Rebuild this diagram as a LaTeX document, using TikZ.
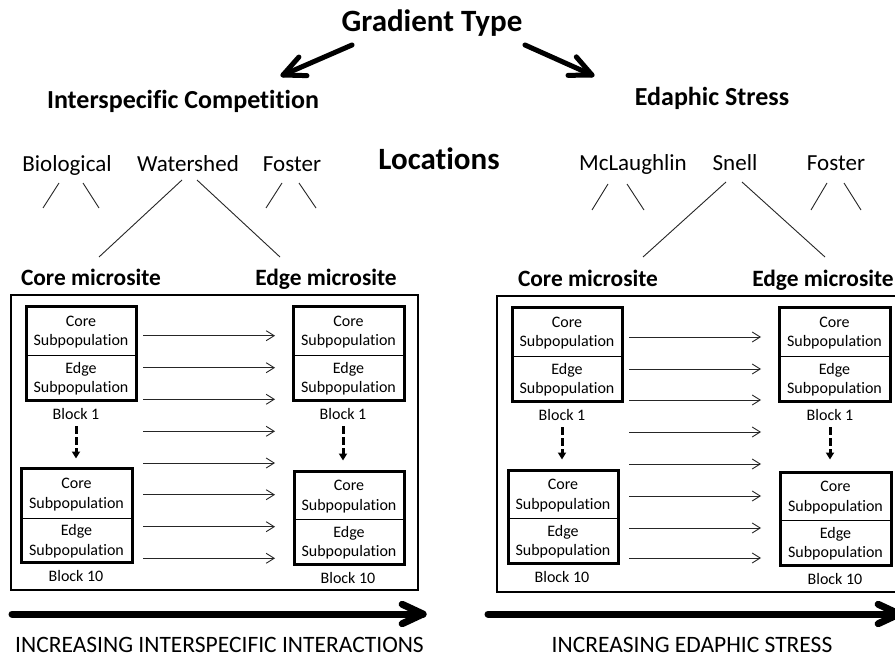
\documentclass[tikz,border=0pt]{standalone}
\usepackage{fontspec}
\setmainfont{Carlito}[Ligatures=NoCommon]
\usetikzlibrary{arrows.meta,calc}
\tikzset{
 hdr/.style={font=\bfseries\fontsize{31}{37}\selectfont, inner sep=0pt, anchor=base},
 subhdr/.style={font=\bfseries\fontsize{26}{31}\selectfont, inner sep=0pt, anchor=base},
 loc/.style={font=\fontsize{23}{28}\selectfont, inner sep=0pt, anchor=base},
 micro/.style={font=\bfseries\fontsize{23.4}{28}\selectfont, inner sep=0pt, anchor=base},
 inc/.style={font=\fontsize{23.5}{28}\selectfont, inner sep=0pt, anchor=base},
 blkbox/.style={draw, line width=3pt, inner sep=0pt},
 subtxt/.style={font=\fontsize{16}{19.5}\selectfont, align=center, inner sep=0pt},
 blklbl/.style={font=\fontsize{16}{19.5}\selectfont, inner sep=0pt, anchor=base},
 panel/.style={draw, line width=2.2pt, inner sep=0pt},
 branch/.style={line width=0.9pt, black!85},
 harr/.style={line width=0.9pt, black!85, -{Straight Barb[length=8pt,width=10pt]}},
 dasharr/.style={line width=3pt, dash pattern=on 7.5pt off 3.5pt, -{Triangle[length=7pt,width=8pt]}},
 garr/.style={line width=5pt, line cap=round, line join=round},
 barr/.style={line width=7pt, line cap=round, line join=round},
}
\newcommand\subblk[9]{%
 \node[blkbox, minimum width={(#4-#2)*1pt}, minimum height={(#5-#3)*1pt}] (#1) at ({(#2+#4)/2},{(#3+#5)/2}) {};
 \draw[line width=1pt] (#2,#6) -- (#4,#6);
 \node[subtxt] (#1c) at ({(#2+#4)/2},{(#3+#6)/2+1.5}) {Core\\Subpopulation};
 \node[subtxt] (#1e) at ({(#2+#4)/2},{(#6+#5)/2+1}) {Edge\\Subpopulation};
 \node[blklbl] (#1l) at (#7,#8) {#9};
}
\begin{document}
\begin{tikzpicture}[x=1pt,y=-1pt]
\useasboundingbox (0,0) rectangle (895,658);
\clip (0,0) rectangle (895,658);
\fill[white] (0,0) rectangle (895,658);

% headings
\node[hdr] (GT) at (432,32) {Gradient Type};
\node[subhdr] (IC) at (183,109) {Interspecific Competition};
\node[subhdr] (ES) at (712,106) {Edaphic Stress};
\node[hdr] (LOC) at (439,170) {Locations};

% gradient arrows
\coordinate (gls) at (352,45); \coordinate (glt) at (283,75);
\coordinate (grs) at (525,45); \coordinate (grt) at (592,75);
\draw[garr] (gls) -- (glt);
\draw[garr] ($(glt)!24pt!25:(gls)$) -- (glt) -- ($(glt)!24pt!-25:(gls)$);
\draw[garr] (grs) -- (grt);
\draw[garr] ($(grt)!24pt!25:(grs)$) -- (grt) -- ($(grt)!24pt!-25:(grs)$);

% locations
\node[loc] (bio) at (67,172) {Biological};
\node[loc] (ws) at (188,172) {Watershed};
\node[loc] (fo1) at (292,172) {Foster};
\node[loc] (mcl) at (633,171) {McLaughlin};
\node[loc] (sn) at (735,171) {Snell};
\node[loc] (fo2) at (836,171) {Foster};

% microsites
\node[micro] (cm1) at (91,285) {Core microsite};
\node[micro] (em1) at (326,285) {Edge microsite};
\node[micro] (cm2) at (588,286) {Core microsite};
\node[micro] (em2) at (823,286) {Edge microsite};

% branch lines
\draw[branch] (59,183) -- (43,208);
\draw[branch] (83,183) -- (99,208);
\draw[branch] (282,183) -- (266,208);
\draw[branch] (299,183) -- (316,208);
\draw[branch] (182,180) -- (99,257);
\draw[branch] (197,180) -- (280,257);
\draw[branch] (608,184) -- (592,210);
\draw[branch] (627,184) -- (644,210);
\draw[branch] (726,182) -- (643,257);
\draw[branch] (742,182) -- (825,257);
\draw[branch] (827,183) -- (811,210);
\draw[branch] (844,183) -- (861,210);

% panels
\node[panel, minimum width=407pt, minimum height=295pt] (PL) at (214.5,442.5) {};
\node[panel, minimum width=410pt, minimum height=296pt] (PR) at (702,444) {};

% blocks left panel
\subblk{LA}{26}{306}{136}{400}{355}{76}{419}{Block 1}
\subblk{LB}{21}{468}{132}{562}{518}{76}{581.5}{Block 10}
\subblk{RA}{293}{306}{404}{400}{355}{343}{419}{Block 1}
\subblk{RB}{294}{471}{404}{564}{519}{348}{583}{Block 10}
% blocks right panel
\subblk{LA2}{512}{307}{622}{401}{356}{562}{420}{Block 1}
\subblk{LB2}{508}{470}{618}{563}{518}{562}{582}{Block 10}
\subblk{RA2}{779}{307}{890}{401}{356}{830}{420}{Block 1}
\subblk{RB2}{780}{472}{891}{565}{520}{835}{584}{Block 10}

% dashed arrows
\draw[dasharr, shorten <=7pt, shorten >=8pt] (LAl.south) -- (LAl.south |- LB.north);
\draw[dasharr, shorten <=7pt, shorten >=9pt] (RAl.south) -- (RAl.south |- RB.north);
\draw[dasharr, shorten <=7pt, shorten >=9pt] (LA2l.south) -- (LA2l.south |- LB2.north);
\draw[dasharr, shorten <=7pt, shorten >=11pt] (RA2l.south) -- (RA2l.south |- RB2.north);

% horizontal arrows
\foreach \y [count=\i] in {335.7,367.7,399.3,431.3,463,494.7,526.7,558.3} {
  \coordinate (ha\i) at (143,\y); \coordinate (hb\i) at (275,\y);
  \draw[harr] (ha\i) -- (hb\i);
}
\foreach \y [count=\i] in {337,369,400,432,464,496,528,558} {
  \coordinate (hc\i) at (629,\y); \coordinate (hd\i) at (761,\y);
  \draw[harr] (hc\i) -- (hd\i);
}

% big arrows
\coordinate (bls) at (12,614); \coordinate (blt) at (423,614);
\coordinate (brs) at (488,614); \coordinate (brt) at (899,614);
\draw[barr] (bls) -- (blt);
\draw[barr] ($(blt)!23pt!25:(bls)$) -- (blt) -- ($(blt)!23pt!-25:(bls)$);
\draw[barr] (brs) -- (brt);
\draw[barr] ($(brt)!23pt!25:(brs)$) -- (brt) -- ($(brt)!23pt!-25:(brs)$);

\node[inc] (t1) at (219.5,652) {INCREASING INTERSPECIFIC INTERACTIONS};
\node[inc] (t2) at (692,652) {INCREASING EDAPHIC STRESS};
\end{tikzpicture}
\end{document}
